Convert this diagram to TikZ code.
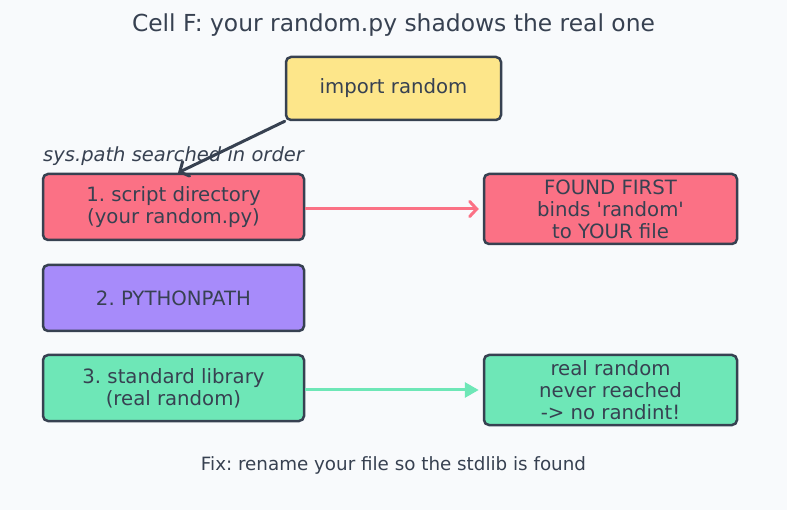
\documentclass[tikz,border=0pt]{standalone}
\usepackage{fontspec}
\setmainfont{DejaVu Sans}
\usetikzlibrary{arrows.meta}
\definecolor{bg}{HTML}{F8FAFC}
\definecolor{ink}{HTML}{374151}
\definecolor{ylw}{HTML}{FDE68A}
\definecolor{rose}{HTML}{FB7185}
\definecolor{vio}{HTML}{A78BFA}
\definecolor{emr}{HTML}{6EE7B7}
\frenchspacing
\tikzset{
  box/.style={draw=ink, line width=2.5pt, rounded corners=5pt, text=ink, align=center,
    font=\fontsize{19.7}{22}\selectfont, inner sep=0pt},
  lbl/.style={text=ink, inner sep=0pt},
}
\begin{document}
\begin{tikzpicture}[x=1pt,y=-1pt]
\fill[bg] (0,0) rectangle (787,510);
\useasboundingbox (0,0) rectangle (787,510);
\node[lbl, font=\fontsize{23.4}{27}\selectfont] (title) at (393.5,25) {Cell F: your random.py shadows the real one};
\node[box, fill=ylw, minimum width=215pt, minimum height=63pt] (imp) at (393.5,88.5) {import random};
\node[lbl, anchor=west, font=\fontsize{19.5}{22}\selectfont\itshape] (sp) at (43,156.5) {sys.path searched in order};
\node[box, fill=rose, minimum width=261pt, minimum height=66pt] (b1) at (173.5,207) {1. script directory\\(your random.py)};
\node[box, fill=vio, minimum width=261pt, minimum height=66pt] (b2) at (173.5,298) {2. PYTHONPATH};
\node[box, fill=emr, minimum width=261pt, minimum height=66pt] (b3) at (173.5,388) {3. standard library\\(real random)};
\node[box, fill=rose, minimum width=253pt, minimum height=70pt] (found) at (610.5,209) {FOUND FIRST\\binds \textquotesingle random\textquotesingle\\to YOUR file};
\node[box, fill=emr, minimum width=253pt, minimum height=70pt] (real) at (610.5,390) {real random\\never reached\\-> no randint!};
\node[lbl, font=\fontsize{18.3}{21}\selectfont] (fix) at (393.5,465.5) {Fix: rename your file so the stdlib is found};
\draw[ink, line width=3pt, line cap=round, -{Straight Barb[length=7pt,width=16pt,line cap=round]}]
  (imp.south west) -- ([xshift=4.5pt]b1.north);
\draw[rose, line width=3pt, shorten >=4pt, -{Straight Barb[length=7pt,width=15pt,line cap=round]}]
  (found.west -| b1.east) -- (found.west);
\draw[emr, line width=3pt, shorten >=4pt, -{Triangle[length=14pt,width=15pt]}]
  (real.west -| b3.east) -- (real.west);
\end{tikzpicture}
\end{document}
